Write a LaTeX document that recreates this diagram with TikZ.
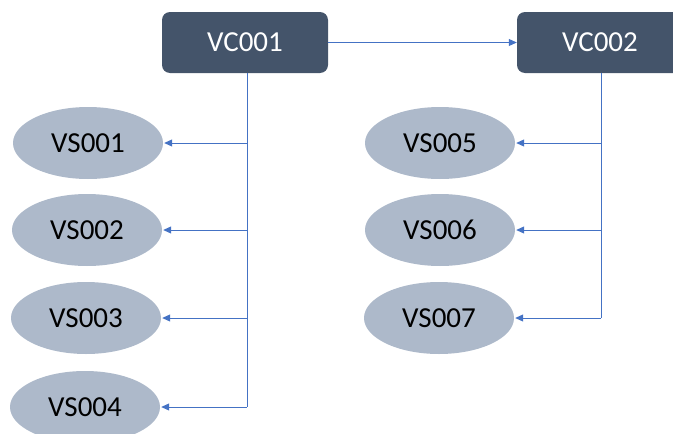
\documentclass[tikz,border=0pt]{standalone}
\usepackage{fontspec}
\setmainfont{Carlito}
\usetikzlibrary{shapes.geometric,arrows.meta}
\definecolor{boxc}{HTML}{44546A}
\definecolor{ellc}{HTML}{ADB9CA}
\definecolor{linec}{HTML}{4472C4}
\tikzset{
  vcbox/.style={draw=none,fill=boxc,rounded corners=8pt,minimum width=166pt,minimum height=61pt,text=white,font=\fontsize{29}{32}\selectfont,inner sep=0pt},
  vsell/.style={ellipse,draw=none,fill=ellc,minimum width=150pt,minimum height=72pt,text=black,font=\fontsize{29}{32}\selectfont,inner sep=0pt},
  conn/.style={draw=linec,line width=1pt,-{Triangle[length=8pt,width=7pt]}}
}
\begin{document}
\begin{tikzpicture}[x=1pt,y=-1pt]
\useasboundingbox (0,0) rectangle (673,434);
\begin{scope}
\clip (0,0) rectangle (673,434);
\node[vcbox] (vc1) at (245,42.5) {VC001};
\node[vcbox] (vc2) at (600,42.5) {VC002};
\node[vsell] (s1) at (88,143) {VS001};
\node[vsell] (s2) at (87,230) {VS002};
\node[vsell] (s3) at (86,318) {VS003};
\node[vsell] (s4) at (85,407) {VS004};
\node[vsell] (s5) at (440,143) {VS005};
\node[vsell] (s6) at (440,230) {VS006};
\node[vsell] (s7) at (439,318) {VS007};
\end{scope}
\coordinate (a) at (247,0);
\coordinate (b) at (601,0);
\draw[conn] (vc1.east) -- (vc2.west);
\draw[draw=linec,line width=1pt] (vc1.south -| a) -- (a |- s4.east);
\draw[draw=linec,line width=1pt] (vc2.south -| b) -- (b |- s7.east);
\foreach \s in {s1,s2,s3,s4}{\draw[conn] (a |- \s.east) -- ([xshift=1pt]\s.east);}
\foreach \s in {s5,s6,s7}{\draw[conn] (b |- \s.east) -- ([xshift=1pt]\s.east);}
\end{tikzpicture}
\end{document}
